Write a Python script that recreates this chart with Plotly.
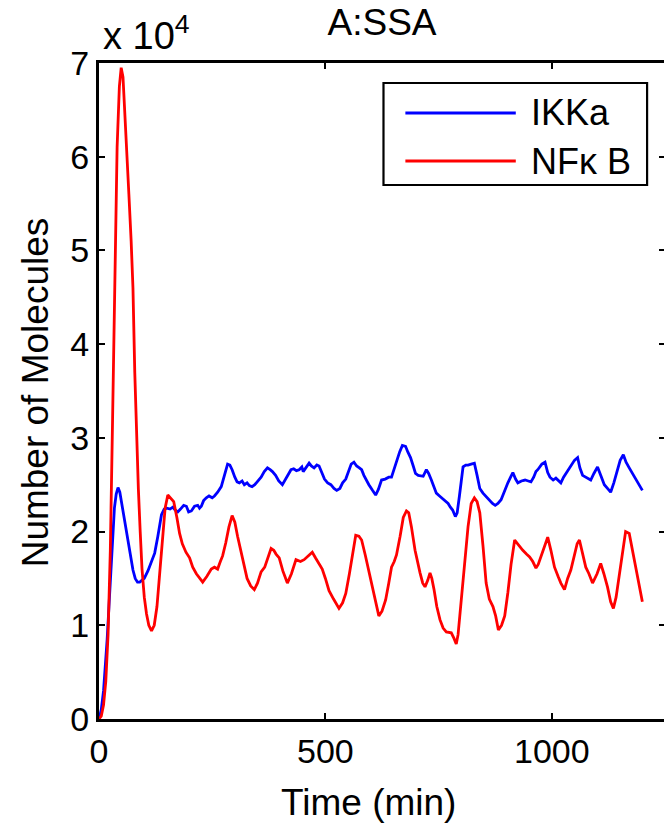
import plotly.graph_objects as go

# Time (min) and values (x 10^4 molecules)
t_nfkb = [0, 5, 10, 15, 20, 25, 30, 35, 40, 45, 49, 53, 57, 61, 66, 71, 75, 79, 83, 87, 91, 95, 100, 105, 110, 116,
          122, 128, 134, 140, 146, 152, 158, 165, 172, 178, 184, 192, 200, 207, 215, 222, 229, 238, 248, 255, 262,
          268, 273, 280, 287, 294, 300, 306, 314, 320, 327, 335, 343, 350, 358, 366, 373, 380, 386, 391, 398, 406,
          416, 425, 435, 445, 453, 462, 471, 478, 486, 493, 500, 508, 518, 530, 538, 545, 553, 560, 567, 574, 580,
          588, 595, 602, 610, 618, 625, 633, 640, 646, 652, 657, 665, 672, 679, 684, 690, 698, 709, 715, 720, 726,
          731, 735, 740, 746, 753, 760, 767, 778, 784, 789, 793, 798, 804, 810, 815, 822, 829, 835, 841, 848, 855,
          862, 870, 876, 882, 889, 896, 903, 910, 918, 927, 936, 944, 951, 958, 965, 970, 976, 984, 991, 998, 1006,
          1014, 1020, 1028, 1035, 1042, 1050, 1056, 1061, 1068, 1075, 1082, 1090, 1100, 1108, 1115, 1123, 1130,
          1136, 1142, 1149, 1156, 1163, 1171, 1178, 1185, 1194, 1200]
nfkb = [0, 0.03, 0.15, 0.4, 0.9, 1.8, 3.2, 4.8, 6.1, 6.75, 6.95, 6.85, 6.5, 6.15, 5.6, 5.1, 4.6, 3.7, 3.0, 2.45,
        2.0, 1.6, 1.3, 1.12, 1.0, 0.94, 1.0, 1.2, 1.55, 1.95, 2.25, 2.39, 2.36, 2.32, 2.15, 1.98, 1.87, 1.78, 1.72,
        1.62, 1.55, 1.5, 1.46, 1.52, 1.6, 1.62, 1.6, 1.68, 1.74, 1.88, 2.05, 2.17, 2.1, 1.95, 1.78, 1.62, 1.5,
        1.42, 1.38, 1.45, 1.57, 1.62, 1.72, 1.82, 1.8, 1.76, 1.72, 1.58, 1.45, 1.55, 1.70, 1.68, 1.70, 1.74, 1.78,
        1.72, 1.66, 1.6, 1.5, 1.37, 1.28, 1.18, 1.24, 1.34, 1.55, 1.78, 1.96, 1.95, 1.91, 1.75, 1.6, 1.45, 1.25,
        1.1, 1.15, 1.27, 1.45, 1.62, 1.68, 1.75, 1.95, 2.15, 2.22, 2.2, 2.05, 1.8, 1.56, 1.45, 1.41, 1.48, 1.56,
        1.5, 1.38, 1.2, 1.06, 0.97, 0.93, 0.92, 0.86, 0.8, 0.9, 1.15, 1.45, 1.8, 2.05, 2.3, 2.36, 2.32, 2.2, 1.85,
        1.45, 1.28, 1.2, 1.1, 0.95, 1.0, 1.1, 1.35, 1.65, 1.91, 1.85, 1.8, 1.76, 1.73, 1.68, 1.61, 1.65, 1.73,
        1.85, 1.94, 1.8, 1.62, 1.52, 1.45, 1.38, 1.5, 1.59, 1.75, 1.87, 1.91, 1.75, 1.62, 1.55, 1.45, 1.55, 1.66,
        1.55, 1.41, 1.25, 1.18, 1.3, 1.52, 1.75, 2.0, 1.98, 1.8, 1.62, 1.42, 1.25]

t_ikka = [0, 5, 10, 14, 18, 22, 26, 30, 34, 38, 42, 46, 50, 55, 60, 65, 70, 75, 80, 85, 90, 95, 100, 108, 115,
          123, 130, 138, 144, 150, 157, 163, 168, 174, 180, 187, 193, 198, 204, 211, 218, 222, 226, 231, 237, 243,
          250, 255, 262, 270, 277, 284, 289, 294, 300, 305, 310, 316, 321, 327, 332, 338, 344, 350, 358, 365, 372,
          378, 383, 390, 397, 405, 411, 418, 424, 430, 436, 442, 448, 451, 457, 464, 469, 475, 481, 486, 492, 498,
          505, 512, 519, 525, 532, 538, 545, 551, 557, 563, 569, 575, 580, 585, 591, 596, 604, 611, 617, 624, 632,
          640, 646, 651, 657, 664, 670, 677, 682, 688, 694, 699, 705, 711, 716, 723, 728, 734, 740, 745, 752, 759,
          765, 771, 776, 781, 787, 791, 796, 800, 804, 810, 815, 822, 829, 835, 841, 848, 855, 862, 869, 875, 881,
          888, 895, 903, 909, 914, 920, 925, 933, 941, 948, 954, 960, 965, 969, 978, 985, 991, 996, 1003, 1009,
          1015, 1020, 1026, 1031, 1037, 1042, 1050, 1057, 1062, 1068, 1075, 1080, 1086, 1093, 1101, 1108, 1116,
          1123, 1130, 1137, 1145, 1151, 1158, 1164, 1171, 1178, 1185, 1192, 1198, 1200]
ikka = [0, 0.1, 0.3, 0.55, 0.85, 1.2, 1.55, 1.95, 2.25, 2.4, 2.47, 2.42, 2.3, 2.15, 2.0, 1.88, 1.72, 1.59, 1.5,
        1.46, 1.46, 1.48, 1.5, 1.58, 1.66, 1.77, 1.95, 2.18, 2.24, 2.25, 2.24, 2.26, 2.23, 2.21, 2.24, 2.28, 2.27,
        2.21, 2.22, 2.27, 2.28, 2.25, 2.27, 2.33, 2.36, 2.38, 2.36, 2.38, 2.42, 2.48, 2.6, 2.72, 2.71, 2.66, 2.58,
        2.53, 2.52, 2.54, 2.5, 2.52, 2.49, 2.48, 2.5, 2.53, 2.58, 2.64, 2.68, 2.66, 2.64, 2.6, 2.54, 2.5, 2.55,
        2.62, 2.66, 2.67, 2.65, 2.66, 2.69, 2.64, 2.68, 2.73, 2.7, 2.68, 2.71, 2.7, 2.63, 2.56, 2.52, 2.5, 2.46,
        2.44, 2.46, 2.52, 2.56, 2.64, 2.72, 2.74, 2.7, 2.68, 2.66, 2.6, 2.54, 2.5, 2.44, 2.39, 2.45, 2.55, 2.56,
        2.58, 2.58, 2.66, 2.76, 2.85, 2.92, 2.91, 2.85, 2.79, 2.7, 2.62, 2.6, 2.59, 2.59, 2.66, 2.62, 2.55, 2.47,
        2.41, 2.38, 2.35, 2.32, 2.3, 2.26, 2.23, 2.16, 2.2, 2.38, 2.57, 2.69, 2.71, 2.71, 2.72, 2.73, 2.6, 2.46,
        2.41, 2.37, 2.34, 2.3, 2.28, 2.3, 2.34, 2.43, 2.52, 2.58, 2.63, 2.56, 2.52, 2.54, 2.55, 2.54, 2.53, 2.58,
        2.64, 2.66, 2.72, 2.74, 2.63, 2.58, 2.55, 2.57, 2.54, 2.52, 2.58, 2.62, 2.66, 2.71, 2.76, 2.79, 2.68,
        2.6, 2.58, 2.56, 2.55, 2.62, 2.69, 2.6, 2.5, 2.46, 2.42, 2.52, 2.66, 2.76, 2.82, 2.74, 2.68, 2.62, 2.57,
        2.5, 2.46, 2.44]

series_names = ["IKKa", "NFκ B"]
series_colors = ["#0000FF", "#FF0000"]
x_ticks = [0, 500, 1000]
y_ticks = [0, 1, 2, 3, 4, 5, 6, 7]
y_ticklabels = ["0", "1", "2", "3", "4", "5", "6", "7"]

FONT = "Liberation Sans, Arial, sans-serif"

fig = go.Figure()
fig.add_trace(go.Scatter(x=t_ikka, y=ikka, mode="lines", name=series_names[0],
                         line=dict(color=series_colors[0], width=2.8)))
fig.add_trace(go.Scatter(x=t_nfkb, y=nfkb, mode="lines", name=series_names[1],
                         line=dict(color=series_colors[1], width=2.8)))

axis_common = dict(showline=True, linecolor="black", linewidth=3, mirror="ticks",
                   ticks="inside", ticklen=6, tickwidth=2, tickcolor="black",
                   showgrid=False, zeroline=False, ticklabelstandoff=0,
                   tickfont=dict(family=FONT, size=34, color="black"))

fig.update_xaxes(range=[0, 1250], tickvals=x_ticks, **axis_common)
fig.update_yaxes(range=[0, 7], tickvals=y_ticks, ticktext=y_ticklabels, **axis_common)

# plot area in pixels: x 99..668, y 63..719
def px(xp):
    return (xp - 99) / 569.0

def py(yp):
    return (719 - yp) / 656.0

txt = dict(family=FONT, color="black")
annotations = [
    dict(text="x 10<sup>4</sup>", xref="paper", yref="paper", x=px(101), y=py(59),
         xanchor="left", yanchor="bottom", showarrow=False, font=dict(size=38, **txt)),
    dict(text="Time (min)", xref="paper", yref="paper", x=px(370), y=py(803),
         xanchor="center", yanchor="middle", showarrow=False, font=dict(size=37, **txt)),
    dict(text="Number of Molecules", xref="paper", yref="paper", x=px(36), y=py(392),
         xanchor="center", yanchor="middle", textangle=-90, showarrow=False, font=dict(size=37, **txt)),
]
shapes = [dict(type="rect", xref="paper", yref="paper", x0=px(385), x1=px(650), y0=py(185), y1=py(83),
               line=dict(color="black", width=2.2), fillcolor="white", layer="above")]
for i, (name, col) in enumerate(zip(series_names, series_colors)):
    yy = py(113 + 48 * i)
    shapes.append(dict(type="line", xref="paper", yref="paper", x0=px(407), x1=px(518), y0=yy, y1=yy,
                       line=dict(color=col, width=2.8), layer="above"))
    annotations.append(dict(text=name, xref="paper", yref="paper", x=px(531), y=yy,
                            xanchor="left", yanchor="middle", showarrow=False, font=dict(size=36, **txt)))

fig.update_layout(
    width=680, height=825,
    margin=dict(l=99, r=12, t=63, b=106),
    paper_bgcolor="white", plot_bgcolor="white",
    title=dict(text="A:SSA", font=dict(size=37, **txt),
               x=0.5, xref="paper", xanchor="center", y=1 - 22 / 825, yanchor="middle"),
    showlegend=False,
    annotations=annotations,
    shapes=shapes,
)

fig.write_html("out.html", config={"displayModeBar": False},
               post_script="document.body.style.margin='0';document.body.style.overflow='hidden';")
